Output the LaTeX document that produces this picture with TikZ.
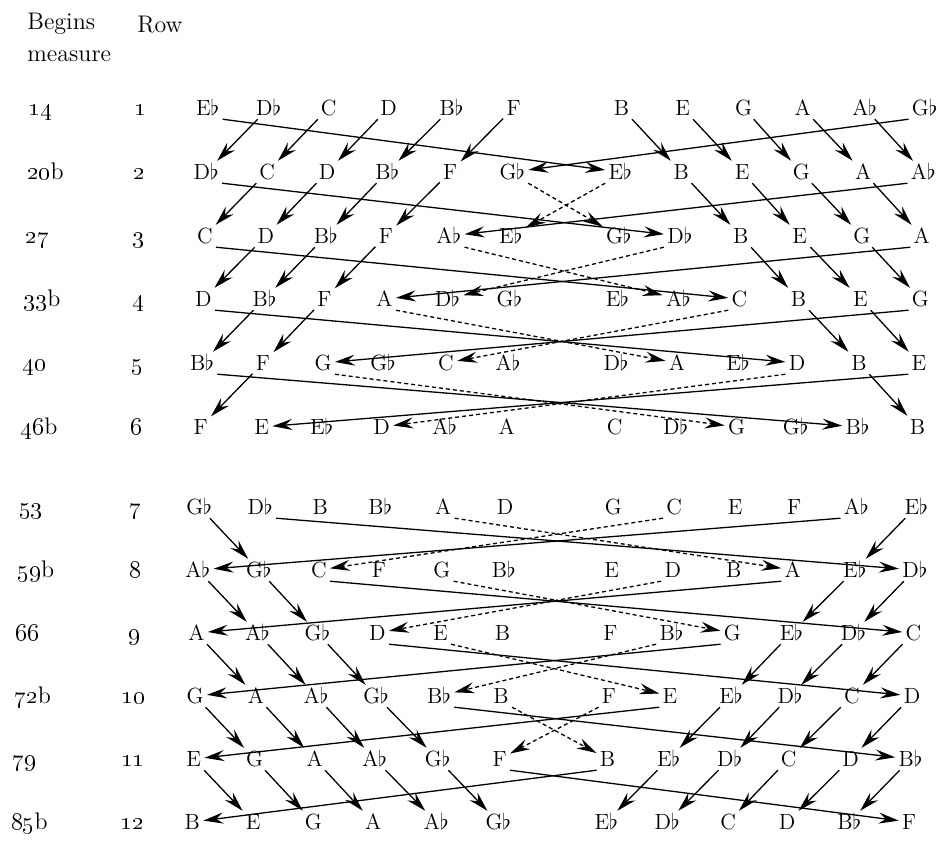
\documentclass[tikz,border=0pt]{standalone}
\usetikzlibrary{arrows.meta}

\newcommand{\fl}{$\flat$}
\newcommand{\noterow}[2]{%
  \foreach \n [count=\ci] in {#2}{%
    \pgfmathsetmacro{\xx}{{209,270,330,390,453,515,623,684,745,804,866,926}[\ci-1]-1.4*#1}
    \pgfmathsetmacro{\yy}{{108,172,236,299,363,427,507,570,633,696,759,822}[#1-1]}
    \node[note] (n#1-\ci) at (\xx,\yy) {\n};
  }}

\begin{document}
\begin{tikzpicture}[x=0.5pt,y=-0.5pt,
    note/.style={inner sep=1.5pt,text height=7.6pt,text depth=0.2pt,font=\fontsize{11}{13}\selectfont},
    meas/.style={note,anchor=west,inner sep=0pt,font=\fontsize{12}{14}\selectfont},
    rownum/.style={note,inner sep=0pt,font=\fontsize{12}{14}\selectfont},
    head/.style={inner sep=0pt,align=left,font=\fontsize{12}{16}\selectfont},
    arr/.style={line width=0.65pt,-{Stealth[length=10pt,width=5.5pt,inset=3.5pt]}},
    darr/.style={arr,dash pattern=on 2pt off 1.5pt}]
  \path[fill=white,use as bounding box] (0,0) rectangle (942,843);

  \node[head,anchor=north west] (begins) at (27,13) {Begins\\measure};
  \node[head] (row) at (160,25) {Row};

  \foreach \m [count=\r] in {{\oldstylenums{14}},{\oldstylenums{20}b},{\oldstylenums{27}},
      {\oldstylenums{33}b},{\oldstylenums{40}},{\oldstylenums{46}b},{\oldstylenums{53}},
      {\oldstylenums{59}b},{\oldstylenums{66}},{\oldstylenums{72}b},{\oldstylenums{79}},
      {\oldstylenums{85}b}}{
    \pgfmathsetmacro{\yy}{{108,172,236,299,363,427,507,570,633,696,759,822}[\r-1]}
    \node[meas] (m\r) at ({30-1.6*\r},\yy) {\m};
    \node[rownum] (r\r) at ({141-0.75*\r},\yy) {\oldstylenums{\r}};
  }

  \noterow{1}{E\fl,D\fl,C,D,B\fl,F,B,E,G,A,A\fl,G\fl}
  \noterow{2}{D\fl,C,D,B\fl,F,G\fl,E\fl,B,E,G,A,A\fl}
  \noterow{3}{C,D,B\fl,F,A\fl,E\fl,G\fl,D\fl,B,E,G,A}
  \noterow{4}{D,B\fl,F,A,D\fl,G\fl,E\fl,A\fl,C,B,E,G}
  \noterow{5}{B\fl,F,G,G\fl,C,A\fl,D\fl,A,E\fl,D,B,E}
  \noterow{6}{F,E,E\fl,D,A\fl,A,C,D\fl,G,G\fl,B\fl,B}
  \noterow{7}{G\fl,D\fl,B,B\fl,A,D,G,C,E,F,A\fl,E\fl}
  \noterow{8}{A\fl,G\fl,C,F,G,B\fl,E,D,B,A,E\fl,D\fl}
  \noterow{9}{A,A\fl,G\fl,D,E,B,F,B\fl,G,E\fl,D\fl,C}
  \noterow{10}{G,A,A\fl,G\fl,B\fl,B,F,E,E\fl,D\fl,C,D}
  \noterow{11}{E,G,A,A\fl,G\fl,F,B,E\fl,D\fl,C,D,B\fl}
  \noterow{12}{B,E,G,A,A\fl,G\fl,E\fl,D\fl,C,D,B\fl,F}

  \foreach \r [evaluate=\r as \s using int(\r+1),evaluate=\r as \e using int(7-\r),
      evaluate=\r as \f using int(6+\r)] in {1,...,5}{
    \foreach \c [evaluate=\c as \d using int(\c-1)] in {2,...,\e}
      \draw[arr] (n\r-\c) -- (n\s-\d);
    \foreach \c [evaluate=\c as \d using int(\c+1)] in {\f,...,11}
      \draw[arr] (n\r-\c) -- (n\s-\d);
    \draw[arr] (n\r-1.south east) -- (n\s-\f);
    \draw[arr] (n\r-12.south west) -- (n\s-\e);
  }

  \foreach \r [evaluate=\r as \s using int(\r+1),evaluate=\r as \e using int(\r-6),
      evaluate=\r as \f using int(19-\r),evaluate=\r as \a using int(\r-5),
      evaluate=\r as \b using int(18-\r)] in {7,...,11}{
    \foreach \c [evaluate=\c as \d using int(\c+1)] in {1,...,\e}
      \draw[arr] (n\r-\c) -- (n\s-\d);
    \foreach \c [evaluate=\c as \d using int(\c-1)] in {\f,...,12}
      \draw[arr] (n\r-\c) -- (n\s-\d);
    \draw[arr] (n\r-\a.south east) -- (n\s-12);
    \draw[arr] (n\r-\b.south west) -- (n\s-1);
  }

  \foreach \r/\c/\d in {2/6/7,3/5/8,4/4/8,5/3/9,7/5/10,8/5/9,9/5/8,10/6/7}{
    \pgfmathtruncatemacro{\s}{\r+1}
    \draw[darr] (n\r-\c.south east) -- (n\s-\d);
  }
  \foreach \r/\c/\d in {2/7/6,3/8/5,4/9/5,5/10/4,7/8/3,8/8/4,9/8/5,10/7/6}{
    \pgfmathtruncatemacro{\s}{\r+1}
    \draw[darr] (n\r-\c.south west) -- (n\s-\d);
  }
\end{tikzpicture}
\end{document}
